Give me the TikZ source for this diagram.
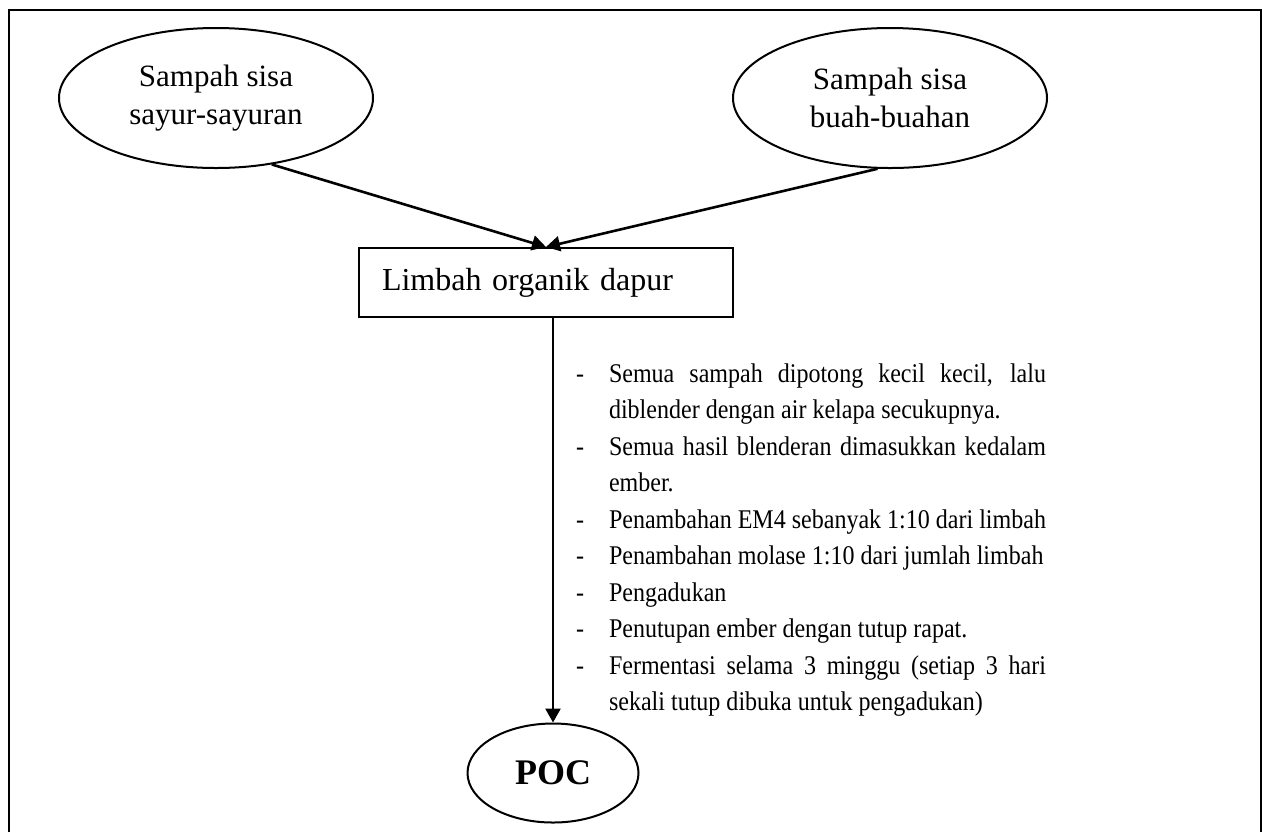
\documentclass[tikz,border=0pt]{standalone}
\usepackage{fontspec}
\setmainfont{Liberation Serif}
\newfontfamily\sempit[FakeStretch=0.89]{Liberation Serif}
\usetikzlibrary{shapes.geometric,arrows.meta}
\hyphenpenalty=10000
\exhyphenpenalty=10000
\newcommand\butir[1]{\hangindent=16.5pt\hangafter=1\noindent\makebox[16.5pt][l]{-}#1\par}
\begin{document}
\begin{tikzpicture}[x=0.5pt, y=-0.5pt, line width=1pt,
        oval/.style ={draw, ellipse, inner sep=0pt, minimum width=157pt, minimum height=70pt,
                      align=center, font=\fontsize{15.5}{19}\selectfont},
        kotak/.style={draw, minimum height=34.5pt, text width=164pt, inner xsep=11.5pt,
                      align=left, font=\fontsize{16}{18}\selectfont},
        teks/.style ={inner sep=0pt, text width=235pt, align=justify, anchor=base west,
                      font=\sempit\fontsize{13.5}{18.25}\selectfont},
        panah/.style={-{Triangle[length=7pt,width=7.5pt]}, line width=1.3pt}]
        \useasboundingbox (0,0) rectangle (1262,832);
        \draw (9,832) -- (9,10) -- (1261,10) -- (1261,832);
        \node[oval]  (sayur)  at (216,98)    {Sampah sisa\\sayur-sayuran};
        \node[oval]  (buah)   at (890,98)    {Sampah sisa\\buah-buahan};
        \node[kotak] (limbah) at (546,282.5) {Limbah organik dapur};
        \node[oval, minimum width=85.5pt, minimum height=49.5pt,
              font=\bfseries\fontsize{18}{20}\selectfont] (poc) at (553,773) {POC};
        \node[teks]  (langkah) at (575,382) {%
            \butir{Semua sampah dipotong kecil kecil, lalu diblender dengan air kelapa secukupnya.}
            \butir{Semua hasil blenderan dimasukkan kedalam ember.}
            \butir{Penambahan EM4 sebanyak 1:10 dari limbah}
            \butir{Penambahan molase 1:10 dari jumlah limbah}
            \butir{Pengadukan}
            \butir{Penutupan ember dengan tutup rapat.}
            \butir{Fermentasi selama 3 minggu (setiap 3 hari sekali tutup dibuka untuk pengadukan)}};
% panah alur (sampah ke limbah, limbah ke POC)
        \draw[panah] (sayur.-50)  -- (limbah.north);
        \draw[panah] (buah.-100)  -- (limbah.north);
        \draw[panah] (poc.north |- limbah.south) -- (poc.north);
    \end{tikzpicture}
\end{document}
